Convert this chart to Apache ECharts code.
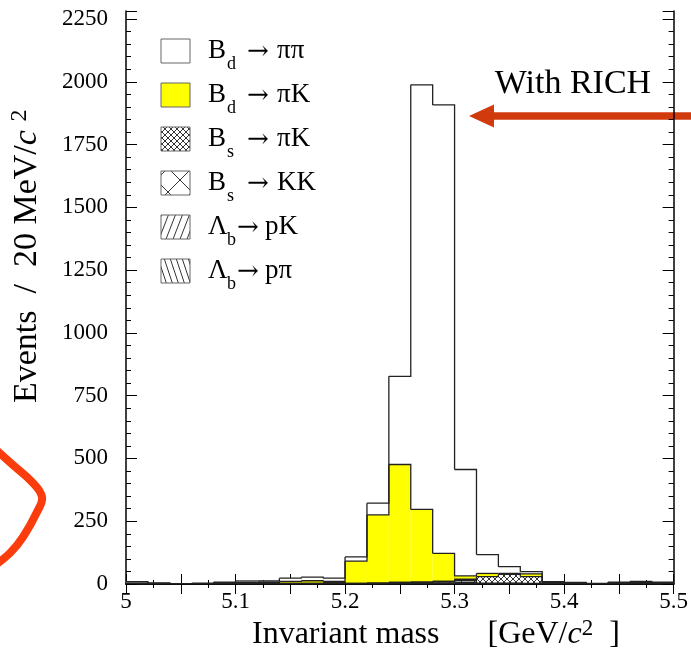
<!DOCTYPE html>
<html><head><meta charset="utf-8">
<script src="https://cdn.jsdelivr.net/npm/echarts@6/dist/echarts.min.js"></script>
<style>html,body{margin:0;padding:0;background:#fff}#c{width:691px;height:654px}</style>
</head><body><div id="c"></div>
<script>
// ---- data ----
const binWidth = 0.02;
const binLow = [5.00,5.02,5.04,5.06,5.08,5.10,5.12,5.14,5.16,5.18,5.20,5.22,5.24,5.26,5.28,5.30,5.32,5.34,5.36,5.38,5.40,5.42,5.44,5.46,5.48];
// stacked from bottom to top
const LbPPi  = [0,1,0,0,0,0,1,0,0,1,0,1,1,1,2,2,1,1,1,1,1,0,1,2,2];
const LbPK   = [0,0,0,0,1,1,1,1,1,1,1,1,1,1,2,4,1,1,1,1,1,1,2,3,2];
const BsKK   = [0,1,0,0,1,0,1,1,1,2,1,1,4,5,6,8,1,1,0,0,0,0,0,0,0];
const BsPiK  = [0,0,0,0,0,0,0,0,0,0,0,0,0,0,0,5,26,35,27,3,1,0,1,1,0];
const BdPiK  = [3,0,0,1,2,5,3,8,11,6,89,272,470,290,112,13,13,4,11,0,0,0,0,0,0];
const BdPiPi = [6,1,1,2,3,6,6,13,14,13,17,47,351,1691,1786,424,75,27,9,4,3,1,3,4,3];

const xTickValues = [5.0,5.1,5.2,5.3,5.4,5.5];
const xTickLabels = ['5','5.1','5.2','5.3','5.4','5.5'];
const yTickValues = [0,250,500,750,1000,1250,1500,1750,2000,2250];
const yTickLabels = ['0','250','500','750','1000','1250','1500','1750','2000','2250'];

const legendMain = ['B','B','B','B','Λ','Λ'];
const legendSub  = ['d','d','s','s','b','b'];
const legendProd = ['ππ','πK','πK','KK','pK','pπ'];

// ---- patterns ----
function pat(w,h,draw){
  const c=document.createElement('canvas');c.width=w;c.height=h;
  const g=c.getContext('2d');g.fillStyle='#fff';g.fillRect(0,0,w,h);
  g.strokeStyle='#000';g.lineWidth=0.8;g.beginPath();draw(g,w,h);g.stroke();
  return {image:c,repeat:'repeat'};
}
function diag(g,w,h,dir){ // dir 1: '/', -1: '\'
  for(let k=-1;k<=1;k++){
    if(dir>0){g.moveTo(k*w,h);g.lineTo(k*w+w,0);}else{g.moveTo(k*w,0);g.lineTo(k*w+w,h);}
  }
}
const fills = {
  BdPiPi:'#ffffff',
  BdPiK:'#ffff00',
  BsPiK: pat(6,6,(g,w,h)=>{diag(g,w,h,1);diag(g,w,h,-1);}),
  BsKK:  pat(24,24,(g,w,h)=>{diag(g,w,h,1);diag(g,w,h,-1);}),
  LbPK:  pat(7,18,(g,w,h)=>diag(g,w,h,1)),
  LbPPi: pat(6,18,(g,w,h)=>diag(g,w,h,-1))
};

const layers = [
  {name:'LbPPi',v:LbPPi},{name:'LbPK',v:LbPK},{name:'BsKK',v:BsKK},
  {name:'BsPiK',v:BsPiK},{name:'BdPiK',v:BdPiK},{name:'BdPiPi',v:BdPiPi}
];
// cumulative
const cum=[]; let run=binLow.map(()=>0);
layers.forEach(L=>{const base=run.slice();run=run.map((r,i)=>r+L.v[i]);cum.push({base,top:run.slice()});});

const series = layers.map((L,k)=>({
  type:'custom', name:L.name, clip:true, z:2,
  data: binLow.map((x,i)=>[x, x+binWidth, cum[k].base[i], cum[k].top[i]]),
  renderItem:(p,api)=>{
    const b=api.value(2), t=api.value(3);
    if(t<=b) return {type:'group',children:[]};
    const a=api.coord([api.value(0),b]), c=api.coord([api.value(1),t]);
    return {type:'rect',shape:{x:a[0],y:c[1],width:c[0]-a[0],height:a[1]-c[1]},style:{fill:fills[L.name]}};
  }
}));
// outlines (step contours of each cumulative level)
series.push({
  type:'custom', name:'outline', clip:true, z:5,
  data: binLow.map((x,i)=>[x, x+binWidth, i]),
  renderItem:(p,api)=>{
    const i=api.value(2), x0=api.value(0), x1=api.value(1);
    const ch=[];
    cum.forEach(C=>{
      const t=C.top[i], tn=(i+1<binLow.length)?C.top[i+1]:0;
      const a=api.coord([x0,t]), b=api.coord([x1,t]), c=api.coord([x1,tn]);
      ch.push({type:'polyline',shape:{points:[a,b,c]},style:{stroke:'#222',lineWidth:1.3,fill:null}});
    });
    return {type:'group',children:ch};
  }
});

const FONT='Liberation Serif';
const xFmt=v=>{const i=xTickValues.findIndex(t=>Math.abs(t-v)<1e-6);return i>=0?xTickLabels[i]:'';};
const yFmt=v=>{const i=yTickValues.findIndex(t=>Math.abs(t-v)<1e-6);return i>=0?yTickLabels[i]:'';};

const axisLine={show:true,lineStyle:{color:'#000',width:1.5}};
function xAx(pos,label){return {type:'value',min:5,max:5.5,interval:0.05,position:pos,
  axisLine, splitLine:{show:false},
  axisTick:{show:true,inside:true,length:10,lineStyle:{color:'#000',width:1}},
  minorTick:{show:true,splitNumber:2,length:4,lineStyle:{color:'#000',width:1}},
  axisLabel:{show:label,formatter:xFmt,fontFamily:FONT,fontSize:23,color:'#000',margin:6}};}
function yAx(pos,iv,len,label,line){return {type:'value',min:0,max:2282,interval:iv,position:pos,
  axisLine: line?axisLine:{show:false}, splitLine:{show:false},
  axisTick:{show:true,inside:true,length:len,lineStyle:{color:'#000',width:1}},
  axisLabel:{show:label,formatter:yFmt,fontFamily:FONT,fontSize:23,color:'#000',margin:18}};}

// legend graphics
const F='"Liberation Serif", serif';
const gfx=[];
const legendFillKeys=['BdPiPi','BdPiK','BsPiK','BsKK','LbPK','LbPPi'];
legendFillKeys.forEach((key,i)=>{
  const cy=51+44*i;
  const ax=(i<4?247:237), px=(i<4?277:265);
  gfx.push({type:'rect',shape:{x:161,y:cy-12,width:29,height:24},style:{fill:fills[key],stroke:'#666',lineWidth:1}});
  gfx.push({type:'text',x:208,y:cy,style:{text:legendMain[i],font:'27px '+F,fill:'#000',textAlign:'left',textVerticalAlign:'middle',verticalAlign:'middle'}});
  gfx.push({type:'text',x:227,y:cy+13,style:{text:legendSub[i],font:'18px '+F,fill:'#000',textAlign:'left',textVerticalAlign:'middle',verticalAlign:'middle'}});
  gfx.push({type:'text',x:ax,y:cy+1,style:{text:'→',font:'26px "DejaVu Serif", serif',fill:'#000',textAlign:'left',textVerticalAlign:'middle',verticalAlign:'middle'}});
  gfx.push({type:'text',x:px,y:cy,style:{text:legendProd[i],font:'27px '+F,fill:'#000',textAlign:'left',textVerticalAlign:'middle',verticalAlign:'middle'}});
});
// annotation
gfx.push({type:'text',x:573,y:84,style:{text:'With RICH',font:'34px '+F,fill:'#000',textAlign:'center',textVerticalAlign:'middle',verticalAlign:'middle'}});
gfx.push({type:'rect',shape:{x:491,y:112.3,width:205,height:7.5},style:{fill:'#d03a0c'}});
gfx.push({type:'polygon',shape:{points:[[469,116],[494,104.5],[494,127.5]]},style:{fill:'#d03a0c'}});
gfx.push({type:'polyline',shape:{points:[[-6,448],[13,465],[32,482],[42,497],[37,512],[23,537],[10,553],[-6,566]],smooth:0.4},style:{stroke:'#fb3c0c',lineWidth:8,fill:null,lineCap:'round'}});
// axis titles
const richT={n:{font:'32px '+F,fill:'#000',lineHeight:36},i:{font:'italic 32px '+F,fill:'#000',lineHeight:36},p:{font:'23px '+F,fill:'#000',lineHeight:16,verticalAlign:'top'}};
gfx.push({type:'text',x:252,y:635,style:{text:'{n|Invariant mass      [GeV/}{i|c}{p|2}{n|  ]}',rich:richT,textAlign:'left',textVerticalAlign:'middle',verticalAlign:'middle'}});
const richY={n:{font:'34px '+F,fill:'#000',lineHeight:38},i:{font:'italic 34px '+F,fill:'#000',lineHeight:38},p:{font:'24px '+F,fill:'#000',lineHeight:16,verticalAlign:'top'}};
gfx.push({type:'text',x:27,y:403,rotation:Math.PI/2,style:{text:'{n|Events  /  20 MeV/}{i|c}{n| }{p|2}',rich:richY,textAlign:'left',textVerticalAlign:'middle',verticalAlign:'middle'}});

const chart=echarts.init(document.getElementById('c'),null,{renderer:'canvas'});
chart.setOption({
  animation:false, backgroundColor:'#fff',
  grid:{left:126,right:16,top:11,bottom:70},
  xAxis:[xAx('bottom',true),xAx('top',false)],
  yAxis:[yAx('left',250,11,true,true),yAx('left',50,5,false,false),yAx('right',250,11,false,true),yAx('right',50,5,false,false)],
  series, graphic:{elements:gfx}
});
</script></body></html>
